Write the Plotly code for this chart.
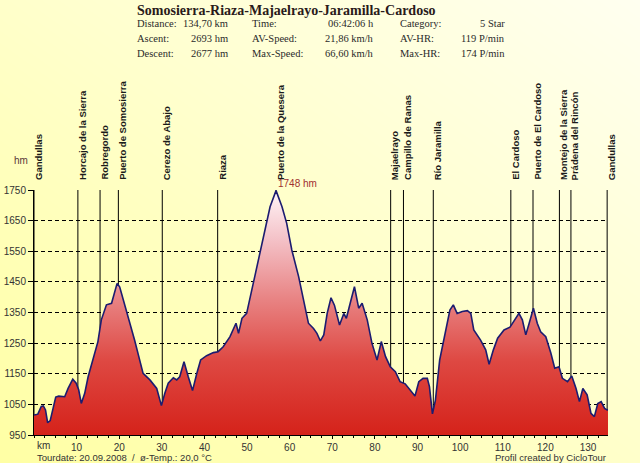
import plotly.graph_objects as go

# ---------------- data ----------------
km = [0.0, 0.9, 1.7, 2.2, 2.7, 3.2, 3.8, 4.4, 5.1, 5.8, 7.2, 8.0, 9.1, 9.9, 10.5, 11.1,
      11.9, 12.7, 13.8, 15.0, 15.8, 17.0, 18.2, 19.5, 20.1, 21.7, 23.6, 25.6, 27.2, 28.8,
      29.9, 30.7, 31.5, 32.7, 33.5, 34.2, 35.2, 36.2, 37.2, 38.2, 39.1, 40.5, 42.1, 43.2,
      44.4, 46.0, 47.4, 48.0, 48.8, 49.9, 51.1, 52.3, 53.8, 55.4, 56.8, 58.2, 59.3, 60.5,
      62.1, 63.2, 64.4, 65.6, 66.4, 67.2, 68.0, 68.8, 69.7, 70.5, 71.7, 72.7, 73.3, 74.2,
      75.2, 76.2, 77.0, 78.2, 79.3, 80.5, 81.5, 82.5, 83.6, 84.8, 85.9, 87.1, 88.2, 89.4,
      90.3, 91.3, 92.3, 92.8, 93.5, 94.2, 95.2, 96.6, 97.6, 98.4, 99.3, 100.5, 101.7, 102.5,
      103.2, 104.8, 106.0, 106.8, 107.8, 108.8, 110.3, 111.7, 112.8, 113.8, 114.6, 115.4,
      116.2, 117.2, 118.1, 118.9, 120.1, 121.3, 122.2, 123.2, 124.0, 125.2, 126.2, 127.2,
      128.0, 128.8, 129.8, 130.7, 131.5, 132.3, 133.1, 133.9, 134.5, 134.7]
elev = [1015, 1018, 1043, 1045, 1032, 990, 997, 1032, 1074, 1077, 1075, 1102, 1132, 1119, 1097, 1053,
        1086, 1140, 1195, 1255, 1326, 1375, 1380, 1445, 1434, 1358, 1260, 1151, 1130, 1102,
        1046, 1086, 1119, 1137, 1130, 1140, 1189, 1140, 1095, 1151, 1195, 1209, 1219, 1222,
        1238, 1271, 1315, 1282, 1331, 1347, 1423, 1500, 1598, 1695, 1748, 1695, 1641, 1554,
        1467, 1391, 1315, 1298, 1282, 1257, 1277, 1347, 1398, 1374, 1309, 1347, 1331, 1380,
        1434, 1364, 1380, 1326, 1250, 1195, 1255, 1206, 1173, 1157, 1124, 1117, 1097, 1077,
        1124, 1135, 1135, 1108, 1019, 1064, 1195, 1287, 1358, 1375, 1347, 1353, 1356, 1347,
        1293, 1260, 1228, 1181, 1228, 1266, 1293, 1302, 1328, 1347, 1326, 1277,
        1315, 1364, 1315, 1287, 1271, 1217, 1168, 1173, 1135, 1124, 1143, 1102,
        1059, 1102, 1081, 1021, 1010, 1053, 1059, 1037, 1032, 1032]

waypoints = ["Gandullas", "Horcajo de la Sierra", "Robregordo", "Puerto de Somosierra",
             "Cerezo de Abajo", "Riaza", "Puerto de la Quesera", "Majaelrayo",
             "Campillo de Ranas", "Río Jaramilla", "El Cardoso", "Puerto de El Cardoso",
             "Montejo de la Sierra", "Prádena del Rincón", "Gandullas"]
waypoint_km = [0.0, 10.3, 15.5, 19.8, 30.1, 43.1, 56.8, 83.7, 86.7, 93.7,
               111.9, 117.1, 123.3, 126.0, 134.5]

y_ticks = [950, 1050, 1150, 1250, 1350, 1450, 1550, 1650, 1750]
x_ticks = [10, 20, 30, 40, 50, 60, 70, 80, 90, 100, 110, 120, 130]

title = "Somosierra-Riaza-Majaelrayo-Jaramilla-Cardoso"
stats = [
    ["Distance:", "134,70 km", "Time:", "06:42:06 h", "Category:", "5 Star"],
    ["Ascent:", "2693 hm", "AV-Speed:", "21,86 km/h", "AV-HR:", "119 P/min"],
    ["Descent:", "2677 hm", "Max-Speed:", "66,60 km/h", "Max-HR:", "174 P/min"],
]
footer_left = "Tourdate: 20.09.2008  /  ø-Temp.: 20,0 °C"
footer_right = "Profil created by CicloTour"
peak_label = "1748 hm"

# ---------------- layout helpers ----------------
W, H = 640, 463
def px(x):
    return x / W
def py(y):
    return 1 - y / H

fig = go.Figure()

# background gradient (subplot 1, full paper)
fig.add_trace(go.Heatmap(
    z=[[0.0, 0.5], [0.5, 1.0]], x=[0, 1], y=[0, 1], zsmooth="best",
    colorscale=[[0, "#FFFFA4"], [1, "#FFFFF0"]], showscale=False,
    hoverinfo="skip", xaxis="x", yaxis="y"))

# waypoint vertical lines
lx, ly = [], []
for k in waypoint_km:
    lx += [k, k, None]
    ly += [950, 1750, None]
fig.add_trace(go.Scatter(x=lx, y=ly, mode="lines", line=dict(color="#000000", width=1),
                         hoverinfo="skip", showlegend=False, xaxis="x2", yaxis="y2"))

# profile
fig.add_trace(go.Scatter(
    x=km, y=elev, mode="lines", fill="tozeroy",
    line=dict(color="#1C1C70", width=1.6),
    fillgradient=dict(type="vertical", start=950, stop=1750,
                      colorscale=[[0, "#D5221A"], [0.3, "#DE4842"], [0.55, "#E88282"],
                                  [0.8, "#F4C2C8"], [1, "#FFF6F8"]]),
    showlegend=False, xaxis="x2", yaxis="y2"))

ann = []
# waypoint labels
for name, k in zip(waypoints, waypoint_km):
    ann.append(dict(x=k, y=1750, xref="x2", yref="y2", text="<b>%s</b>" % name,
                    textangle=-90, xanchor="center", yanchor="bottom", xshift=4, yshift=8,
                    showarrow=False, font=dict(family="Liberation Sans", size=9.5, color="#1A1A1A")))
# peak
ann.append(dict(x=56.8, y=1750, xref="x2", yref="y2", text=peak_label, xanchor="left",
                yanchor="bottom", xshift=0, yshift=-1, showarrow=False,
                font=dict(family="Liberation Sans", size=10, color="#A03030")))
# hm / km
ann.append(dict(x=px(12), y=py(160), xref="paper", yref="paper", text="hm", xanchor="left",
                yanchor="middle", showarrow=False,
                font=dict(family="Liberation Sans", size=10, color="#5A3A3A")))
ann.append(dict(x=px(35), y=py(445), xref="paper", yref="paper", text="km", xanchor="left",
                yanchor="middle", showarrow=False,
                font=dict(family="Liberation Sans", size=10, color="#333333")))
# footer
ann.append(dict(x=px(35), y=py(457.5), xref="paper", yref="paper", text=footer_left, xanchor="left",
                yanchor="middle", showarrow=False,
                font=dict(family="Liberation Sans", size=9.5, color="#333333")))
ann.append(dict(x=px(608), y=py(457.5), xref="paper", yref="paper", text=footer_right, xanchor="right",
                yanchor="middle", showarrow=False,
                font=dict(family="Liberation Sans", size=9.5, color="#333333")))
# title
ann.append(dict(x=px(135), y=py(10), xref="paper", yref="paper", text="<b>%s</b>" % title,
                xanchor="left", yanchor="middle", showarrow=False,
                font=dict(family="Liberation Serif", size=14, color="#2A1A1A")))
# stats
col_x = [(135, "left"), (230, "right"), (250, "left"), (376, "right"), (398, "left"), (507, "right")]
row_y = [24, 39, 53]
for r, row in enumerate(stats):
    for c, txt in enumerate(row):
        xx, anc = col_x[c]
        ann.append(dict(x=px(xx), y=py(row_y[r]), xref="paper", yref="paper", text=txt,
                        xanchor=anc, yanchor="middle", showarrow=False,
                        font=dict(family="Liberation Serif", size=10.5, color="#2A2A2A")))

fig.update_layout(
    template="none",
    width=W, height=H, autosize=False,
    margin=dict(l=0, r=0, t=0, b=0, pad=0),
    paper_bgcolor="#FFFFD8", plot_bgcolor="rgba(0,0,0,0)",
    showlegend=False, annotations=ann,
    xaxis=dict(domain=[0, 1], range=[0, 1], visible=False, fixedrange=True, automargin=False),
    yaxis=dict(domain=[0, 1], range=[0, 1], visible=False, fixedrange=True, automargin=False),
    xaxis2=dict(domain=[px(34), px(608)], range=[0, 134.7], anchor="y2", automargin=False,
                tickvals=x_ticks, ticks="outside", ticklen=3, tickcolor="#000",
                showline=True, linecolor="#000", linewidth=1, showgrid=False, zeroline=False,
                tickfont=dict(family="Liberation Sans", size=10, color="#333333"),
                minor=dict(dtick=2.5, ticks="outside", ticklen=2, tickcolor="#000", showgrid=False)),
    yaxis2=dict(domain=[py(435), py(190)], range=[950, 1750], anchor="x2", automargin=False,
                tickvals=y_ticks, ticks="outside", ticklen=5, tickcolor="#000",
                showline=True, linecolor="#000", linewidth=1,
                showgrid=True, gridcolor="#000", gridwidth=1, griddash="4px,3px",
                zeroline=False,
                tickfont=dict(family="Liberation Sans", size=10, color="#333333")),
)

fig.write_html("out.html", config={"displayModeBar": False},
               post_script="document.body.style.margin='0';document.body.style.padding='0';")
